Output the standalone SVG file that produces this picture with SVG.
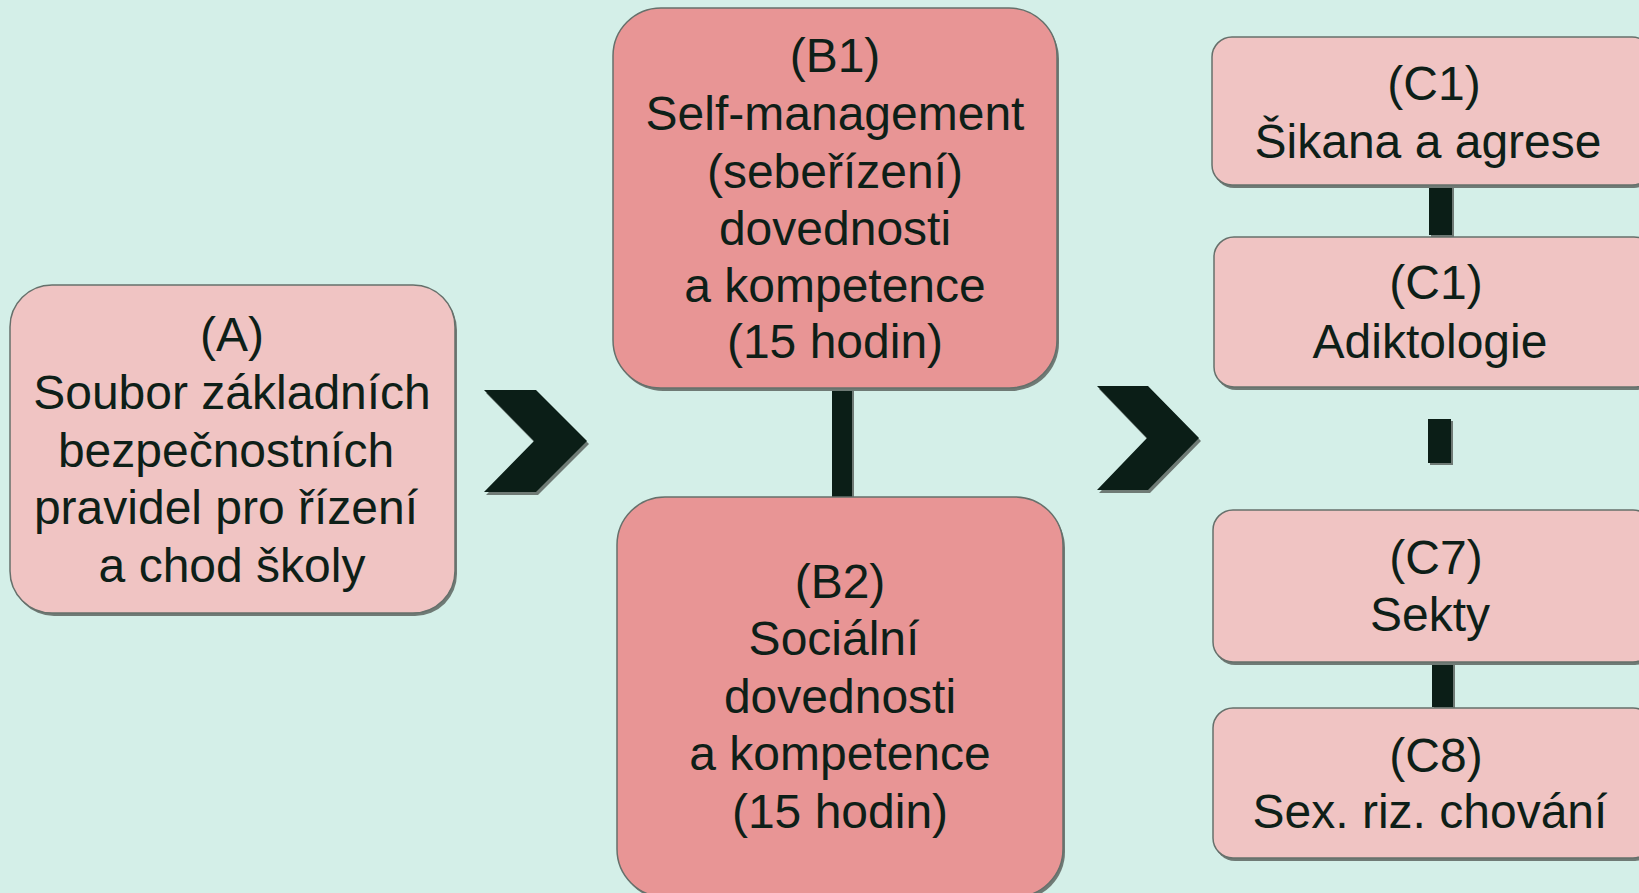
<svg xmlns="http://www.w3.org/2000/svg" width="1639" height="893" viewBox="0 0 1639 893">
  <style>
    .bg { fill: #d4efe8; }
    .shadow { fill: #6f7a75; }
    .light { fill: #f0c4c3; stroke: #66706b; stroke-width: 1.5; }
    .dark { fill: #e89595; stroke: #66706b; stroke-width: 1.5; }
    .bar { fill: #0b1e17; }
    .t { font-family: "Liberation Sans", Arial, sans-serif; font-size: 48px; fill: #0e1f18; text-anchor: middle; }
  </style>
  <rect class="bg" x="0" y="0" width="1639" height="893"/>

  <g id="connectors">
    <rect class="shadow" x="834" y="390" width="20" height="109"/>
    <rect class="bar" x="832" y="388" width="20" height="109"/>
    <rect class="shadow" x="1431" y="187" width="23" height="50"/>
    <rect class="bar" x="1429" y="185" width="23" height="50"/>
    <rect class="shadow" x="1430" y="421" width="23" height="44"/>
    <rect class="bar" x="1428" y="419" width="23" height="44"/>
    <rect class="shadow" x="1434" y="664" width="21" height="45"/>
    <rect class="bar" x="1432" y="662" width="21" height="45"/>
    <polygon class="shadow" points="486,393 538,393 589,444 538,495 486,495 536,444"/>
    <polygon class="bar" points="484,390 536,390 587,441 536,492 484,492 534,441"/>
    <polygon class="shadow" points="1099,389 1150,389 1201,441 1150,493 1099,493 1149,441"/>
    <polygon class="bar" points="1097,386 1148,386 1199,438 1148,490 1097,490 1147,438"/>
  </g>

  <g id="nodeA">
    <rect class="shadow" x="12" y="288" width="445" height="328" rx="42"/>
    <rect class="light" x="10" y="285" width="445" height="328" rx="42"/>
    <text class="t" x="232" y="351">(A)</text>
    <text class="t" x="232" y="409">Soubor základních</text>
    <text class="t" x="226" y="467">bezpečnostních</text>
    <text class="t" x="226" y="524">pravidel pro řízení</text>
    <text class="t" x="232" y="582">a chod školy</text>
  </g>

  <g id="nodeB1">
    <rect class="shadow" x="615" y="11" width="444" height="380" rx="48"/>
    <rect class="dark" x="613" y="8" width="444" height="380" rx="48"/>
    <text class="t" x="835" y="72">(B1)</text>
    <text class="t" x="835" y="130">Self-management</text>
    <text class="t" x="835" y="188">(sebeřízení)</text>
    <text class="t" x="835" y="245">dovednosti</text>
    <text class="t" x="835" y="302">a kompetence</text>
    <text class="t" x="835" y="358">(15 hodin)</text>
  </g>

  <g id="nodeB2">
    <rect class="shadow" x="619" y="500" width="446" height="400" rx="48"/>
    <rect class="dark" x="617" y="497" width="446" height="400" rx="48"/>
    <text class="t" x="840" y="598">(B2)</text>
    <text class="t" x="834" y="655">Sociální</text>
    <text class="t" x="840" y="713">dovednosti</text>
    <text class="t" x="840" y="770">a kompetence</text>
    <text class="t" x="840" y="828">(15 hodin)</text>
  </g>

  <g id="nodeC1a">
    <rect class="shadow" x="1214" y="40" width="440" height="148" rx="20"/>
    <rect class="light" x="1212" y="37" width="440" height="148" rx="20"/>
    <text class="t" x="1434" y="100">(C1)</text>
    <text class="t" x="1428" y="158">Šikana a agrese</text>
  </g>

  <g id="nodeC1b">
    <rect class="shadow" x="1216" y="240" width="440" height="150" rx="20"/>
    <rect class="light" x="1214" y="237" width="440" height="150" rx="20"/>
    <text class="t" x="1436" y="299">(C1)</text>
    <text class="t" x="1430" y="358">Adiktologie</text>
  </g>

  <g id="nodeC7">
    <rect class="shadow" x="1215" y="513" width="440" height="152" rx="20"/>
    <rect class="light" x="1213" y="510" width="440" height="152" rx="20"/>
    <text class="t" x="1436" y="574">(C7)</text>
    <text class="t" x="1430" y="631">Sekty</text>
  </g>

  <g id="nodeC8">
    <rect class="shadow" x="1215" y="711" width="440" height="150" rx="20"/>
    <rect class="light" x="1213" y="708" width="440" height="150" rx="20"/>
    <text class="t" x="1436" y="772">(C8)</text>
    <text class="t" x="1430" y="828">Sex. riz. chování</text>
  </g>
</svg>
